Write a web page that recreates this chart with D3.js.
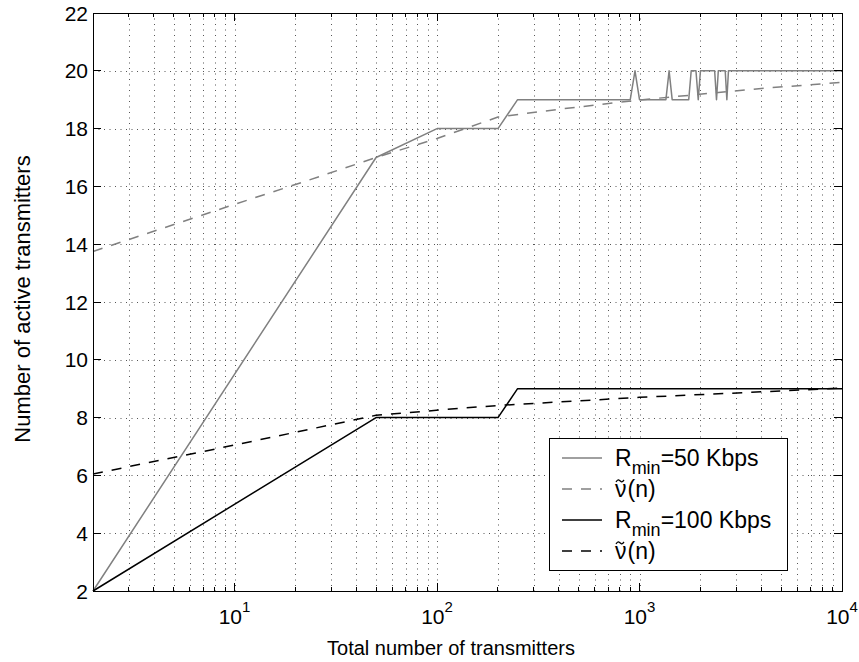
<!DOCTYPE html>
<html>
<head>
<meta charset="utf-8">
<script src="https://cdn.jsdelivr.net/npm/d3@7"></script>
<style>
    body { margin: 0; background: #fff; }
    text { font-family: "Liberation Sans", Arial, Helvetica, sans-serif; fill: #000; }
</style>
</head>
<body>
<div id="chart"></div>
<script>
// R_min = 50 Kbps: simulated count of active transmitters
const n50 = [2, 50, 100, 200, 250, 900, 950, 1000, 1350, 1400, 1450, 1750, 1800, 1900, 1950, 2000, 2350, 2400, 2450, 2650, 2700, 2750, 10000];
const active50 = [2, 17, 18, 18, 19, 19, 20, 19, 19, 20, 19, 19, 20, 20, 19, 20, 20, 19, 20, 20, 19, 20, 20];
// R_min = 50 Kbps: approximation nu~(n)
const nApprox50 = [2, 10, 22, 50, 100, 200, 400, 1000, 4000, 10000];
const approx50 = [13.75, 15.38, 16.16, 17.0, 17.66, 18.4, 18.67, 18.99, 19.39, 19.6];

// R_min = 100 Kbps
const n100 = [2, 50, 200, 250, 10000];
const active100 = [2, 8, 8, 9, 9];
const nApprox100 = [2, 10, 50, 130, 200, 1000, 10000];
const approx100 = [6.05, 7.05, 8.08, 8.32, 8.42, 8.7, 9.02];

const yTicks = [2, 4, 6, 8, 10, 12, 14, 16, 18, 20, 22];
const xDecades = [1, 2, 3, 4];
const legendLabels = [["R", "min", "=50 Kbps"], ["ν", "(n)"], ["R", "min", "=100 Kbps"], ["ν", "(n)"]];

document.addEventListener("DOMContentLoaded", function() {
    drawChart();
});

function drawChart() {
    const width = 859, height = 662;
    const margin = { top: 13, right: 17, bottom: 71, left: 93 };
    const grey = "#808080";

    const svg = d3.select("#chart").append("svg")
        .attr("width", width)
        .attr("height", height);

    const x = d3.scaleLog().domain([2, 1e4]).range([margin.left, width - margin.right]);
    const y = d3.scaleLinear().domain([2, 22]).range([height - margin.bottom, margin.top]);

    const x0 = x.range()[0], x1 = x.range()[1];
    const y0 = y.range()[0], y1 = y.range()[1];

    // minor + major x positions
    const xAll = [];
    for (let k = 0; k <= 3; k++) {
        for (let m = 1; m <= 9; m++) {
            const v = m * Math.pow(10, k);
            if (v > 2 && v < 1e4) xAll.push(v);
        }
    }
    const xMajor = xDecades.map(e => Math.pow(10, e));

    // dotted grid
    const grid = svg.append("g")
        .attr("stroke", "#555")
        .attr("stroke-width", 1)
        .attr("stroke-dasharray", "1,4.5");

    grid.selectAll(".vgrid")
        .data(xAll)
        .enter().append("line")
        .attr("x1", d => Math.round(x(d)) + 0.5)
        .attr("x2", d => Math.round(x(d)) + 0.5)
        .attr("y1", y1)
        .attr("y2", y0);

    grid.selectAll(".hgrid")
        .data(yTicks.filter(d => d > 2 && d < 22))
        .enter().append("line")
        .attr("x1", x0)
        .attr("x2", x1)
        .attr("y1", d => Math.round(y(d)) + 0.5)
        .attr("y2", d => Math.round(y(d)) + 0.5);

    // lines
    const line = d3.line()
        .x(d => x(d[0]))
        .y(d => y(d[1]));

    const series = [
        { n: n50, v: active50, color: grey, dash: null },
        { n: nApprox50, v: approx50, color: grey, dash: "10,9" },
        { n: n100, v: active100, color: "#000", dash: null },
        { n: nApprox100, v: approx100, color: "#000", dash: "10,9" }
    ];

    svg.selectAll(".series")
        .data(series)
        .enter().append("path")
        .attr("fill", "none")
        .attr("stroke", d => d.color)
        .attr("stroke-width", 1.5)
        .attr("stroke-linejoin", "round")
        .attr("stroke-dasharray", d => d.dash)
        .attr("d", d => line(d.n.map((n, i) => [n, d.v[i]])));

    // box and ticks
    const axes = svg.append("g")
        .attr("stroke", "#000")
        .attr("stroke-width", 1)
        .attr("shape-rendering", "crispEdges");

    axes.append("rect")
        .attr("x", x0)
        .attr("y", y1)
        .attr("width", x1 - x0)
        .attr("height", y0 - y1)
        .attr("fill", "none");

    yTicks.forEach(t => {
        axes.append("line").attr("x1", x0).attr("x2", x0 + 8).attr("y1", y(t)).attr("y2", y(t));
        axes.append("line").attr("x1", x1).attr("x2", x1 - 8).attr("y1", y(t)).attr("y2", y(t));
    });
    xAll.concat(xMajor).forEach(t => {
        const len = xMajor.includes(t) ? 8 : 4;
        axes.append("line").attr("x1", x(t)).attr("x2", x(t)).attr("y1", y0).attr("y2", y0 - len);
        axes.append("line").attr("x1", x(t)).attr("x2", x(t)).attr("y1", y1).attr("y2", y1 + len);
    });

    // tick labels
    svg.selectAll(".ylabel")
        .data(yTicks)
        .enter().append("text")
        .attr("x", x0 - 5)
        .attr("y", d => y(d))
        .attr("dy", "0.36em")
        .attr("text-anchor", "end")
        .style("font-size", "21px")
        .text(d => d);

    const xl = svg.selectAll(".xlabel")
        .data(xDecades)
        .enter().append("text")
        .attr("x", d => x(Math.pow(10, d)))
        .attr("y", y0 + 33)
        .attr("text-anchor", "middle")
        .style("font-size", "21px");
    xl.append("tspan").text("10");
    xl.append("tspan")
        .attr("dy", -12)
        .style("font-size", "15px")
        .text(d => d);

    // axis titles
    svg.append("text")
        .attr("x", 451)
        .attr("y", height - 7)
        .attr("text-anchor", "middle")
        .style("font-size", "20px")
        .text("Total number of transmitters");

    svg.append("text")
        .attr("transform", `translate(30,299) rotate(-90)`)
        .attr("text-anchor", "middle")
        .style("font-size", "22px")
        .text("Number of active transmitters");

    // legend
    const legend = svg.append("g");
    legend.append("rect")
        .attr("x", 549.5)
        .attr("y", 438.5)
        .attr("width", 238)
        .attr("height", 132)
        .attr("fill", "#fff")
        .attr("stroke", "#000")
        .attr("stroke-width", 1);

    const rowY = [458, 489, 520, 551];
    const row = legend.selectAll(".row")
        .data(series)
        .enter().append("g")
        .attr("transform", (d, i) => `translate(0,${rowY[i]})`);

    row.append("line")
        .attr("x1", 562)
        .attr("x2", 602)
        .attr("stroke", d => d.color)
        .attr("stroke-width", 1.5)
        .attr("stroke-dasharray", d => d.dash);

    // small tilde drawn over the nu
    const tilde = d3.line().curve(d3.curveNatural);

    row.each(function(d, i) {
        const parts = legendLabels[i];
        const g = d3.select(this);
        const t = g.append("text")
            .attr("x", 615)
            .attr("dy", "0.36em")
            .style("font-size", "23px");
        if (parts[0] === "R") {
            t.append("tspan").text(parts[0]);
            t.append("tspan").attr("dy", 8).style("font-size", "18px").text(parts[1]);
            t.append("tspan").attr("dy", -8).text(parts[2]);
        } else {
            t.append("tspan").text(parts[0]);
            t.append("tspan").attr("dx", 1).text(parts[1]);
            g.append("path")
                .attr("fill", "none")
                .attr("stroke", "#000")
                .attr("stroke-width", 1.3)
                .attr("d", tilde([[616, -7], [618.3, -9.2], [621.5, -7.2], [624, -9]]));
        }
    });
}
</script>
</body>
</html>
